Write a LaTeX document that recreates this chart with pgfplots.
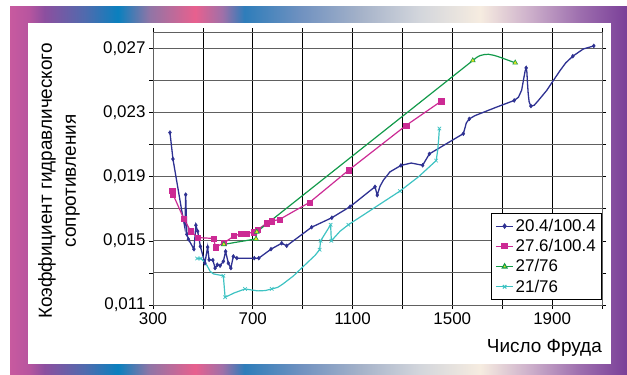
\documentclass[border=0pt]{standalone}
\usepackage{fontspec}
\setmainfont{Liberation Sans}
\usepackage{pgfplots}
\pgfplotsset{compat=1.18}
\definecolor{cblue}{HTML}{2E3192}
\definecolor{cmag}{HTML}{CC2A94}
\definecolor{cgreen}{HTML}{129A4A}
\definecolor{ccyan}{HTML}{3EC3C3}
\definecolor{cyell}{HTML}{E6E61E}
\definecolor{s1}{HTML}{C85A9F}
\definecolor{s2}{HTML}{B8559F}
\definecolor{s3}{HTML}{8C4F9F}
\definecolor{s4}{HTML}{4F6BAE}
\definecolor{s5}{HTML}{0A80BE}
\definecolor{s6}{HTML}{9075A6}
\definecolor{s7}{HTML}{E8608E}
\definecolor{s8}{HTML}{A070A8}
\definecolor{s9}{HTML}{2E7DBA}
\definecolor{s10}{HTML}{6F91C0}
\definecolor{s11}{HTML}{A5B2C9}
\definecolor{s12}{HTML}{D3D6DC}
\definecolor{s13}{HTML}{F6ECE0}
\definecolor{s14}{HTML}{CDB0CB}
\definecolor{s15}{HTML}{9D6EAE}
\definecolor{s16}{HTML}{7A3F98}
\pgfdeclarehorizontalshading{frame}{100bp}{color(0bp)=(s1); color(25bp)=(s1); color(26.5bp)=(s2); color(27.8bp)=(s3); color(31.1bp)=(s4); color(33.75bp)=(s5); color(36.3bp)=(s6); color(40bp)=(s7); color(42.2bp)=(s8); color(44bp)=(s9); color(48.5bp)=(s10); color(53.4bp)=(s11); color(58.2bp)=(s12); color(63.1bp)=(s13); color(67.1bp)=(s14); color(71.2bp)=(s15); color(75bp)=(s16); color(100bp)=(s16)}
\begin{document}
\begin{tikzpicture}
\path[use as bounding box] (0bp,0bp) rectangle (627bp,375bp);
\shade[shading=frame] (10bp,0bp) rectangle (627bp,368bp);
\fill[white] (28bp,11bp) rectangle (611bp,352.3bp);
\node[rotate=90, align=center, font=\fontsize{19}{24}\selectfont] at (59bp,194bp) {Коэффициент гидравлического\\сопротивления};
\node[anchor=base east, font=\fontsize{19}{22}\selectfont, inner sep=0pt] at (602bp,23bp) {Число Фруда};
\begin{axis}[
  at={(153bp,70bp)}, anchor=south west, scale only axis,
  width=449bp, height=272.7bp,
  xmin=300, xmax=2100, ymin=0.011, ymax=0.028,
  xtick={300,500,700,900,1100,1300,1500,1700,1900,2100},
  xticklabels={300,,700,,1100,,1500,,1900,},
  ytick={0.011,0.013,0.015,0.017,0.019,0.021,0.023,0.025,0.027},
  yticklabels={{0,011},,{0,015},,{0,019},,{0,023},,{0,027}},
  scaled y ticks=false,
  grid=major,
  x grid style={black, line width=0.6pt},
  y grid style={gray!75!black, line width=0.9pt},
  axis line style={gray!75!black, line width=0.8pt},
  tick align=outside, major tick length=4bp,
  tick style={black, line width=0.6pt},
  tick label style={font=\fontsize{17}{20}\selectfont},
  legend style={at={(1,0)}, anchor=south east, yshift=5bp, draw=black, line width=0.6pt, fill=white,
    font=\fontsize{17}{20}\selectfont, inner xsep=4pt, inner ysep=4pt, row sep=2.5pt},
  legend cell align=left,
]
\addlegendimage{cblue, line width=1.1pt, mark=diamond*, mark size=2pt}
\addlegendentry{20.4/100.4}
\addlegendimage{cmag, line width=1.1pt, mark=square*, mark size=2.6pt}
\addlegendentry{27.6/100.4}
\addlegendimage{cgreen, line width=1.1pt, mark=triangle*, mark size=2.8pt, mark options={fill=cyell, draw=cgreen}}
\addlegendentry{27/76}
\addlegendimage{ccyan, line width=1.1pt, mark=x, mark size=2.5pt}
\addlegendentry{21/76}

% 20.4/100.4 line
\addplot[cblue, line width=1.3pt, forget plot] coordinates {
(368,0.02175) (380,0.0201) (415,0.0169) (428,0.0158) (431,0.01788) (436,0.0154) (442,0.0151)
(464,0.01448) (472,0.01597) (479,0.0156) (490,0.01465) (508,0.01361) (519,0.01461) (525,0.01382)
(540,0.0138) (549,0.0133) (558,0.01351) (569,0.01345) (582,0.01372) (591,0.01434) (602,0.01361)
(612,0.0133) (622,0.01403) (636,0.01392) (706,0.01392) (724,0.01392) (773,0.01448) (816,0.01485)
(836,0.01469) (936,0.01585) (1017,0.01644) (1090,0.01713) (1190,0.01837) (1199,0.01785)
(1210,0.0184) (1224,0.01879) (1250,0.0193) (1294,0.0197) (1335,0.01985) (1381,0.01971)
(1408,0.02042) (1544,0.02168) (1550,0.0220) (1556,0.02235) (1568,0.0226) (1590,0.0228)
(1611,0.02293) (1678,0.02334) (1748,0.02375) (1765,0.02395) (1778,0.0244) (1786,0.0251)
(1792,0.0256) (1796,0.02578) (1799,0.0255) (1801,0.0249) (1804,0.0242) (1808,0.02365)
(1815,0.0234) (1828,0.02345) (1845,0.02375) (1878,0.02437) (1932,0.02562) (1955,0.0261)
(1983,0.02651) (2025,0.02696) (2067,0.02715)};
\addplot[only marks, cblue, mark=diamond*, mark size=2pt, forget plot] coordinates {
(368,0.02175) (380,0.0201) (431,0.01788) (436,0.0154) (442,0.0151)
(464,0.01448) (472,0.01597) (479,0.0156) (490,0.01465) (508,0.01361) (519,0.01461) (525,0.01382)
(540,0.0138) (549,0.0133) (558,0.01351) (569,0.01345) (582,0.01372) (591,0.01434) (602,0.01361)
(612,0.0133) (622,0.01403) (636,0.01392) (706,0.01392) (724,0.01392) (773,0.01448) (816,0.01485)
(836,0.01469) (936,0.01585) (1017,0.01644) (1090,0.01713) (1190,0.01837) (1199,0.01785)
(1294,0.0197) (1381,0.01971) (1408,0.02042) (1544,0.02168) (1568,0.0226) (1748,0.02375)
(1796,0.02578) (1815,0.0234) (1983,0.02651) (2067,0.02715)};

% 27.6/100.4
\addplot[cmag, line width=1.2pt, forget plot] coordinates {
(377,0.0181) (380,0.0179) (423,0.0164) (451,0.0156) (480,0.0152) (544,0.01515) (550,0.0146)
(585,0.01488) (625,0.0153) (650,0.01543) (674,0.01546) (704,0.01554) (720,0.0157) (756,0.0161)
(776,0.01622) (808,0.01634) (928,0.0174) (1084,0.0194) (1315,0.0222) (1455,0.0237)};
\addplot[only marks, cmag, mark=square*, mark size=2.6pt, forget plot] coordinates {
(377,0.0181) (380,0.0179) (423,0.0164) (451,0.0156) (480,0.0152) (544,0.01515) (550,0.0146)
(585,0.01488) (625,0.0153) (650,0.01543) (674,0.01546) (704,0.01554) (720,0.0157) (756,0.0161)
(776,0.01622) (808,0.01634) (928,0.0174) (1084,0.0194) (1315,0.0222) (1455,0.0237)};

% 27/76
\addplot[cgreen, line width=1.2pt, forget plot] coordinates {
(584,0.01478) (713,0.01512) (716,0.01556) (1582,0.02624) (1597,0.02643) (1611,0.02655)
(1628,0.02661) (1645,0.02663) (1668,0.02656) (1692,0.02644) (1720,0.02628) (1752,0.0261)};
\addplot[only marks, mark=triangle*, mark size=2.8pt, mark options={fill=cyell, draw=cgreen, line width=0.6pt}, forget plot] coordinates {
(584,0.01478) (713,0.01512) (716,0.01556) (1582,0.02624) (1752,0.0261)};

% 21/76
\addplot[ccyan, line width=1.2pt, forget plot] coordinates {
(477,0.0139) (492,0.0139) (505,0.0137) (515,0.0135) (529,0.0131) (542,0.01294) (582,0.01282)
(589,0.01148) (605,0.0116) (625,0.01175) (669,0.0120) (720,0.01188) (750,0.0119) (776,0.0120)
(800,0.0121) (820,0.0123) (862,0.0128) (916,0.0136) (950,0.0141) (968,0.01445) (972,0.0150)
(1012,0.0160) (1015,0.0150) (1050,0.0156) (1083,0.0160) (1290,0.0181) (1365,0.0190)
(1435,0.0200) (1441,0.0206) (1445,0.0213) (1448,0.0220)};
\addplot[only marks, ccyan, mark=x, mark size=2.5pt, line width=0.7pt, forget plot] coordinates {
(477,0.0139) (492,0.0139) (582,0.01282) (589,0.01148) (669,0.0120) (776,0.0120) (968,0.01445)
(972,0.0150) (1012,0.0160) (1015,0.0150) (1083,0.0160) (1290,0.0181) (1435,0.0200) (1448,0.0220)};
\end{axis}
\end{tikzpicture}
\end{document}
